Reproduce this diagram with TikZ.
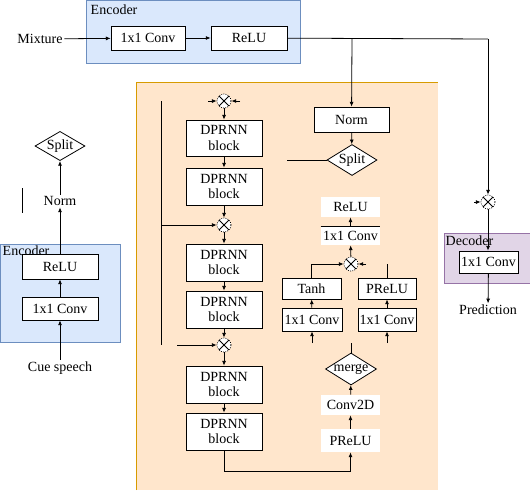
\documentclass[tikz,border=0pt]{standalone}
\usepackage{fontspec}
\setmainfont{Liberation Serif}
\usetikzlibrary{arrows.meta, calc, positioning, shapes.geometric}

\definecolor{encfill}{HTML}{DAE8FC}
\definecolor{encline}{HTML}{6C8EBF}
\definecolor{sepfill}{HTML}{FFE6CC}
\definecolor{sepline}{HTML}{D79B00}
\definecolor{decfill}{HTML}{E1D5E7}
\definecolor{decline}{HTML}{9673A6}

\tikzset{
	box/.style={draw, fill=white, align=center, inner sep=1pt, minimum width=#1},
	box/.default=57pt,
	plainbox/.style={fill=white, inner sep=1pt, minimum width=44.25pt},
	splitbox/.style={diamond, draw, fill=white, inner sep=0pt, aspect=1.6},
	mult/.style={circle, draw, densely dotted, fill=white, minimum size=10.5pt, inner sep=0pt,
		path picture={\draw[solid] (path picture bounding box.north west) -- (path picture bounding box.south east)
			(path picture bounding box.north east) -- (path picture bounding box.south west);}},
	arr/.style={-{Latex[length=3.5pt,width=3pt]}},
	label/.style={inner sep=1pt}
}

\begin{document}
\begin{tikzpicture}[x=0.75pt, y=-0.75pt, font=\fontsize{10.5}{11.5}\selectfont, line width=0.6pt]
			\useasboundingbox (0,0) rectangle (530,490);
			% groups
			\fill[encfill] (86,0) rectangle (300,63);
			\draw[encline] (86,0) rectangle (300,63);
			\fill[sepfill] (136,82) rectangle (438,490);
			\draw[sepline] (136,490) -- (136,82) -- (438,82);
			\fill[encfill] (0,244) rectangle (120,342);
			\draw[encline] (0,244) rectangle (120,342);
			\fill[decfill] (444,233) rectangle (530,283);
			\draw[decline] (530,233) -- (444,233) -- (444,283) -- (530,283);
			\node[label, anchor=west] (enc1) at (89,10) {Encoder};
			\node[label, anchor=west] (enc2) at (1,251) {Encoder};
			\node[label, anchor=west] (dec) at (444,241) {Decoder};

			% encoder (mixture)
			\node[label] (mixture) at (40,39) {Mixture};
			\node[box=55.5pt, minimum height=18pt] (conva) at (148,38) {1x1 Conv};
			\node[box, minimum height=18pt] (relua) at (249,38) {ReLU};
			\coordinate (jn) at (352,39);
			\coordinate (jd) at (488,39);
			\draw[arr] (mixture) -- (conva);
			\draw[arr] (conva) -- (relua);

			% norm and split
			\node[box=56.25pt, minimum height=18.75pt] (norm) at (351.5,119.5) {Norm};
			\node[splitbox, minimum width=37.5pt, minimum height=23.25pt] (split) at (352,160) {Split};
			\coordinate (sl) at (287,160);
			\draw (relua) -- (jd);
			\draw[arr] (jn) -- (norm);
			\draw[arr] (norm) -- (split);
			\draw (split) -- (sl);

			% DPRNN blocks
			\node[mult] (m1) at (224,101) {};
			\node[box, minimum height=27pt] (b1) at (224,138) {DPRNN\\block};
			\node[box, minimum height=27.75pt] (b2) at (224,186.5) {DPRNN\\block};
			\node[mult] (m2) at (224,225) {};
			\node[box, minimum height=27.75pt] (b3) at (224,262.5) {DPRNN\\block};
			\node[box, minimum height=27.75pt] (b4) at (224,309.5) {DPRNN\\block};
			\node[mult] (m3) at (224,345) {};
			\node[box, minimum height=27.75pt] (b5) at (224,384.5) {DPRNN\\block};
			\node[box, minimum height=27.75pt] (b6) at (224,431.5) {DPRNN\\block};
			\draw[arr] (m1) -- (b1);
			\draw[arr] (b1) -- (b2);
			\draw[arr] (b2) -- (m2);
			\draw[arr] (m2) -- (b3);
			\draw[arr] (b3) -- (b4);
			\draw[arr] (b4) -- (m3);
			\draw[arr] (m3) -- (b5);
			\draw[arr] (b5) -- (b6);
			\coordinate (ml) at (208,101);
			\coordinate (mr) at (240,101);
			\draw[arr] (ml) -- (m1);
			\draw[arr] (mr) -- (m1);
			\coordinate (st) at (161,101);
			\coordinate (sb) at (161,345);
			\coordinate (s2) at (161,225);
			\coordinate (s3) at (177,345);
			\draw (st) -- (sb);
			\draw[arr] (s2) -- (m2);
			\draw[arr] (s3) -- (m3);

			% mask branch
			\node[plainbox, minimum height=15pt] (relub) at (350.5,207) {ReLU};
			\node[plainbox, minimum height=13.5pt] (convb) at (350.5,236) {1x1 Conv};
			\draw (convb.north west) -- (convb.north east);
			\node[mult] (m4) at (351,264) {};
			\node[box=44.25pt, minimum height=15.75pt] (tanh) at (311.5,288.5) {Tanh};
			\node[box=45pt, minimum height=17.25pt] (convc) at (312,319.5) {1x1 Conv};
			\node[box=43.5pt, minimum height=15.75pt] (prelua) at (387,288.5) {PReLU};
			\node[box=43.5pt, minimum height=17.25pt] (convd) at (387,319.5) {1x1 Conv};
			\draw[arr] (m4) -- (convb);
			\draw[arr] (convb) -- (relub);
			\draw[arr] (tanh.north) |- (m4);
			\coordinate (m4r) at (366,264);
			\draw[arr] (m4r) -- (m4);
			\coordinate (pt) at (387,264);
			\draw (prelua) -- (pt);
			\draw[arr] (convc) -- (tanh);
			\draw[arr] (convd) -- (prelua);
			\coordinate (cc) at (312,343);
			\coordinate (cd) at (387,343);
			\draw[arr] (cc) -- (convc);
			\draw[arr] (cd) -- (convd);

			% merge
			\node[splitbox, minimum width=38.25pt, minimum height=24pt] (merge) at (351,369) {merge};
			\coordinate (mt) at (351,343);
			\draw (merge) -- (mt);
			\node[plainbox, minimum height=15pt] (conv2d) at (350.5,405) {Conv2D};
			\node[plainbox, minimum height=17.25pt] (preluc) at (350.5,440.5) {PReLU};
			\draw[arr] (preluc) -- (conv2d);
			\draw[arr] (conv2d) -- (merge);
			\coordinate (bb) at (224,471);
			\draw[arr] (b6) -- (bb) -| (preluc);

			% decoder
			\node[mult] (m5) at (488,202) {};
			\coordinate (m5l) at (474,202);
			\node[box=44.25pt, minimum height=16.5pt] (conve) at (488.5,262) {1x1 Conv};
			\node[label] (pred) at (488,310) {Prediction};
			\draw[arr] (jd) -- (m5);
			\draw[arr] (m5l) -- (m5);
			\draw[arr] (m5) -- (m5 |- conve.north);
			\draw[arr] (conve) -- (pred);

			% encoder (cue speech)
			\node[label] (cue) at (60,368) {Cue speech};
			\node[box, minimum height=17.25pt] (convf) at (60,308.5) {1x1 Conv};
			\node[box, minimum height=18.75pt] (relue) at (60,266.5) {ReLU};
			\node[label] (normb) at (60,201) {Norm};
			\coordinate (nt) at (22,188);
			\coordinate (nb) at (22,213);
			\draw (nt) -- (nb);
			\node[splitbox, minimum width=37.5pt, minimum height=16.5pt] (splitb) at (60,146) {Split};
			\draw[arr] (cue) -- (convf);
			\draw[arr] (convf) -- (relue);
			\draw[arr] (relue) -- (normb);
			\draw[arr] (normb) -- (splitb);
\end{tikzpicture}
\end{document}
